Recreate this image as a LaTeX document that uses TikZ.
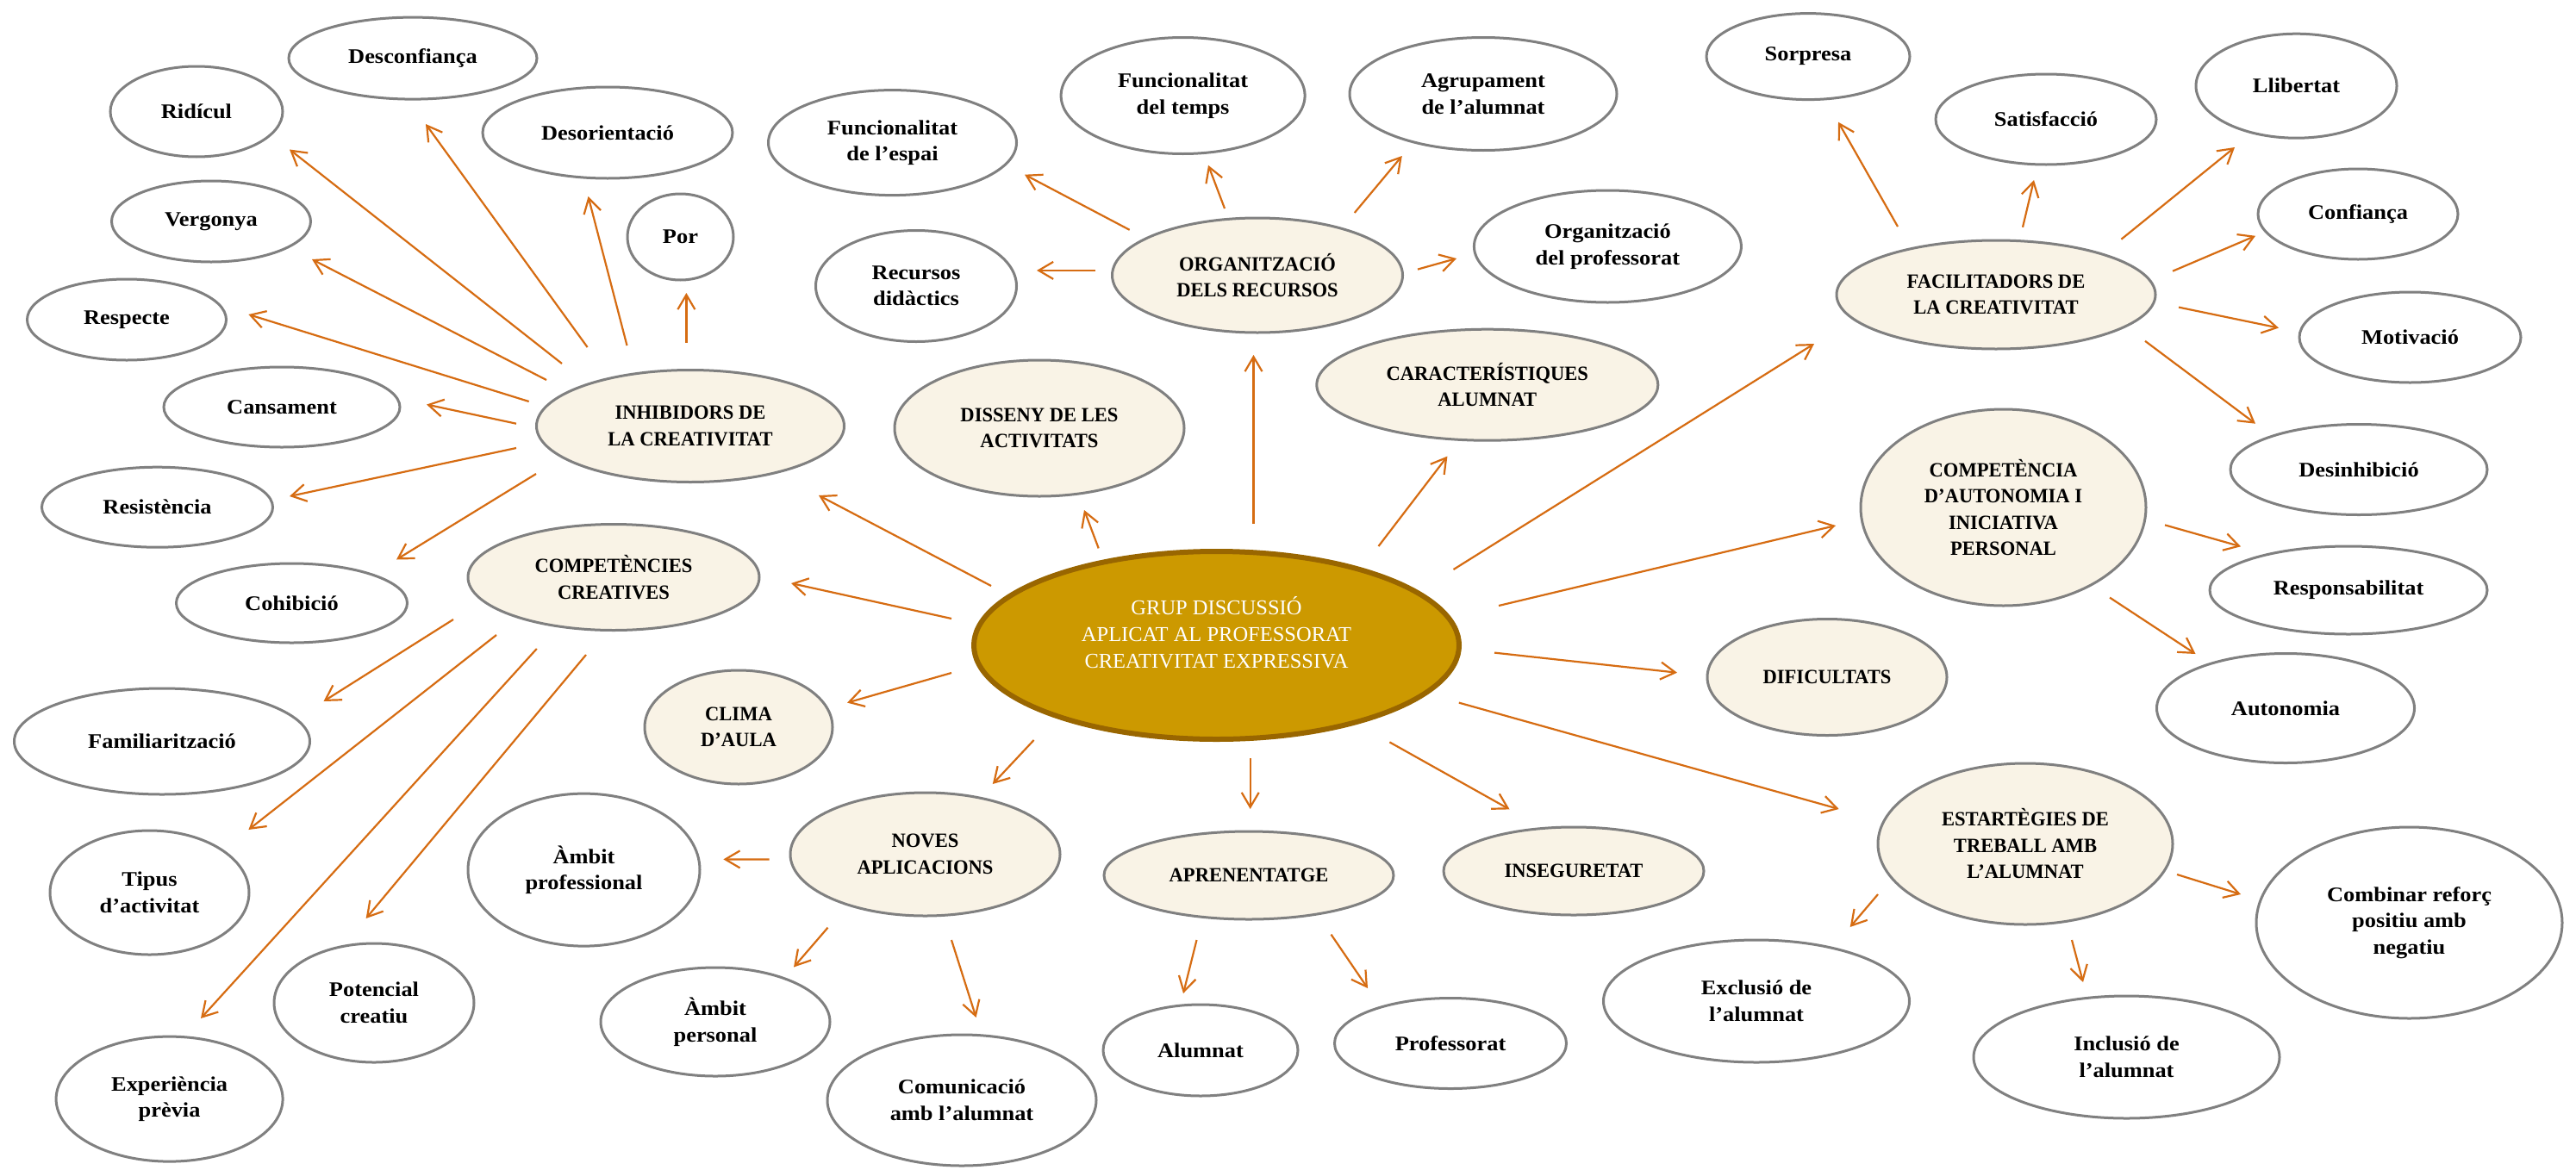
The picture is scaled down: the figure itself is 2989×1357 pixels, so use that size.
\documentclass[tikz,border=0pt]{standalone}
\usepackage{fontspec}
\setmainfont{Liberation Serif}
\newfontfamily\leaffont[FakeStretch=1.1]{Liberation Serif}
\newfontfamily\catfont[FakeStretch=0.96]{Liberation Serif}
\usetikzlibrary{shapes.geometric,arrows.meta,calc}
\definecolor{arrc}{RGB}{214,108,18}
\definecolor{edgec}{RGB}{128,128,128}
\definecolor{creamc}{RGB}{249,243,230}
\definecolor{goldc}{RGB}{204,153,0}
\definecolor{brownc}{RGB}{153,102,0}
\tikzset{
  el/.style={ellipse, draw=edgec, line width=3pt, inner sep=0pt, align=center},
  leafnode/.style={el, fill=white, font=\leaffont\bfseries\fontsize{24}{30.5}\selectfont},
  catnode/.style={el, fill=creamc, font=\catfont\bfseries\fontsize{23.5}{30.5}\selectfont},
  hubnode/.style={ellipse, draw=brownc, line width=6pt, fill=goldc, text=white, inner sep=0pt, align=center, font=\fontsize{24.5}{31}\selectfont},
  arr/.style={draw=arrc, line width=2.2pt, -{Straight Barb[length=17pt,width=20pt]}},
  sz/.style 2 args={minimum width=#1pt, minimum height=#2pt},
}
\begin{document}
\begin{tikzpicture}[x=1pt,y=-1pt]
\fill[white] (0,0) rectangle (2989,1357);
\useasboundingbox (0,0) rectangle (2989,1357);

% central
\node[hubnode, sz={563}{218}] (grup) at (1411.5,749) {GRUP DISCUSSIÓ\\APLICAT AL PROFESSORAT\\CREATIVITAT EXPRESSIVA\\\mbox{}};

% categories
\node[catnode, sz={357}{130}] (inh) at (801,494.5) {INHIBIDORS DE\\LA CREATIVITAT};
\node[catnode, sz={338}{123}] (comp) at (712,670) {COMPETÈNCIES\\CREATIVES};
\node[catnode, sz={218}{132}] (clim) at (857,844) {CLIMA\\D’AULA};
\node[catnode, sz={313}{143}] (nove) at (1073.5,991.5) {NOVES\\APLICACIONS};
\node[catnode, sz={336}{102}] (apre) at (1449,1016) {APRENENTATGE};
\node[catnode, sz={302}{102}] (inse) at (1826,1011) {INSEGURETAT};
\node[catnode, sz={278}{135}] (difi) at (2120,786) {DIFICULTATS};
\node[catnode, sz={342}{187}] (estr) at (2350,979.5) {ESTARTÈGIES DE\\TREBALL AMB\\L’ALUMNAT};
\node[catnode, sz={331}{228}] (caut) at (2324.5,589) {COMPETÈNCIA\\D’AUTONOMIA I\\INICIATIVA\\PERSONAL};
\node[catnode, sz={370}{126}] (faci) at (2316,342) {FACILITADORS DE\\LA CREATIVITAT};
\node[catnode, sz={396}{129}] (cara) at (1725.8,446.7) {CARACTERÍSTIQUES\\ALUMNAT};
\node[catnode, sz={337}{133}] (orgr) at (1459,319.5) {ORGANITZACIÓ\\DELS RECURSOS};
\node[catnode, sz={336}{158}] (diss) at (1206,497) {DISSENY DE LES\\ACTIVITATS};

% leaves
\node[leafnode, sz={288}{95}] (desc) at (479,67.6) {Desconfiança};
\node[leafnode, sz={200}{105}] (rid) at (228,129.5) {Ridícul};
\node[leafnode, sz={231}{94}] (verg) at (245,257) {Vergonya};
\node[leafnode, sz={231}{94}] (resp) at (147,371) {Respecte};
\node[leafnode, sz={274}{93}] (cans) at (327,472.5) {Cansament};
\node[leafnode, sz={268}{93}] (resi) at (182.5,588.7) {Resistència};
\node[leafnode, sz={268}{92}] (cohi) at (338.5,700) {Cohibició};
\node[leafnode, sz={290}{106}] (deso) at (705,154) {Desorientació};
\node[leafnode, sz={123}{100}] (por) at (789.5,275) {Por};
\node[leafnode, sz={343}{123}] (fami) at (188,860.5) {Familiarització};
\node[leafnode, sz={231}{144}] (tipu) at (173.5,1036) {Tipus\\d’activitat};
\node[leafnode, sz={232}{138}] (pote) at (434,1164) {Potencial\\creatiu};
\node[leafnode, sz={263}{145}] (expe) at (196.6,1275.6) {Experiència\\prèvia};
\node[leafnode, sz={269}{177}] (ambp) at (677.5,1009.6) {Àmbit\\professional};
\node[leafnode, sz={288}{122}] (fesp) at (1035.5,165.6) {Funcionalitat\\de l’espai};
\node[leafnode, sz={283}{135}] (ftem) at (1372.6,111) {Funcionalitat\\del temps};
\node[leafnode, sz={233}{129}] (recu) at (1063,332) {Recursos\\didàctics};
\node[leafnode, sz={310}{131}] (agru) at (1721,109) {Agrupament\\de l’alumnat};
\node[leafnode, sz={310}{130}] (orgp) at (1865.4,286) {Organització\\del professorat};
\node[leafnode, sz={236}{100}] (sorp) at (2098,65.6) {Sorpresa};
\node[leafnode, sz={256}{105}] (sati) at (2374,138.5) {Satisfacció};
\node[leafnode, sz={233}{121}] (llib) at (2664.5,99.7) {Llibertat};
\node[leafnode, sz={232}{105}] (conf) at (2736,248.5) {Confiança};
\node[leafnode, sz={257}{105}] (moti) at (2796.5,391.5) {Motivació};
\node[leafnode, sz={298}{105}] (desi) at (2737,545) {Desinhibició};
\node[leafnode, sz={322}{102}] (respo) at (2725,685) {Responsabilitat};
\node[leafnode, sz={299}{127}] (auto) at (2652,822) {Autonomia};
\node[leafnode, sz={355}{222}] (comb) at (2795.5,1071) {Combinar reforç\\positiu amb\\negatiu};
\node[leafnode, sz={355}{142}] (incl) at (2467.5,1227) {Inclusió de\\l’alumnat};
\node[leafnode, sz={355}{142}] (excl) at (2038,1162) {Exclusió de\\l’alumnat};
\node[leafnode, sz={269}{105}] (prof) at (1683,1211) {Professorat};
\node[leafnode, sz={226}{106}] (alum) at (1393,1219) {Alumnat};
\node[leafnode, sz={312}{152}] (comu) at (1116,1277) {Comunicació\\amb l’alumnat};
\node[leafnode, sz={266}{126}] (ambpe) at (830,1186) {Àmbit\\personal};

% connectors: inhibidors
\draw[arr] ($(inh)+(-149,-72.5)$) -- ($(rid)+(108,44)$);
\draw[arr] ($(inh)+(-119.4,-91.5)$) -- ($(desc)+(15,76.4)$);
\draw[arr] ($(inh)+(-167,-53.5)$) -- ($(verg)+(117,44)$);
\draw[arr] ($(inh)+(-187.3,-28.5)$) -- ($(resp)+(141.4,-6)$);
\draw[arr] ($(inh)+(-202,-2.8)$) -- ($(cans)+(168,-3)$);
\draw[arr] ($(inh)+(-202,25.5)$) -- ($(resi)+(153.5,-12.7)$);
\draw[arr] ($(inh)+(-179,55.5)$) -- ($(cohi)+(121.5,-50.5)$);
\draw[arr] ($(inh)+(-73.5,-93.5)$) -- ($(deso)+(-22.5,74)$);
\draw[arr] ($(inh)+(-4.6,-96.9)$) -- ($(por)+(6.9,65)$);
% competencies creatives
\draw[arr] ($(comp)+(-186,49)$) -- ($(fami)+(187.5,-46.5)$);
\draw[arr] ($(comp)+(-136,67)$) -- ($(tipu)+(114.9,-73)$);
\draw[arr] ($(comp)+(-89.2,83)$) -- ($(expe)+(36.4,-93.6)$);
\draw[arr] ($(comp)+(-32,90)$) -- ($(pote)+(-9.3,-98)$);
% organitzacio dels recursos
\draw[arr] ($(orgr)+(-148.4,-52.7)$) -- ($(fesp)+(153.5,37.1)$);
\draw[arr] ($(orgr)+(-38,-77.5)$) -- ($(ftem)+(29.4,80.8)$);
\draw[arr] ($(orgr)+(-188,-5.6)$) -- ($(recu)+(140,-18.1)$);
\draw[arr] ($(orgr)+(112.7,-72.5)$) -- ($(agru)+(-94.2,72)$);
\draw[arr] ($(orgr)+(186,-6.9)$) -- ($(orgp)+(-175.4,14)$);
% central
\draw[arr] ($(grup)+(43,-141)$) -- ($(orgr)+(-4.5,92.5)$);
\draw[arr] ($(grup)+(-136.8,-112.6)$) -- ($(diss)+(52,95)$);
\draw[arr] ($(grup)+(-261.5,-69)$) -- ($(inh)+(149,80.5)$);
\draw[arr] ($(grup)+(188,-115)$) -- ($(cara)+(-46.4,82.9)$);
\draw[arr] ($(grup)+(275,-88)$) -- ($(faci)+(-211,57)$);
\draw[arr] ($(grup)+(327.5,-46)$) -- ($(caut)+(-194.5,21)$);
\draw[arr] ($(grup)+(322.5,8.6)$) -- ($(difi)+(-174,-5.3)$);
\draw[arr] ($(grup)+(281.3,66.6)$) -- ($(estr)+(-216.3,-40.5)$);
\draw[arr] ($(grup)+(200.9,112.4)$) -- ($(inse)+(-74.4,-71.6)$);
\draw[arr] ($(grup)+(39.2,131)$) -- ($(apre)+(1.7,-77)$);
\draw[arr] ($(grup)+(-211.9,110)$) -- ($(nove)+(78.3,-81.5)$);
\draw[arr] ($(grup)+(-307.5,32)$) -- ($(clim)+(126,-28.4)$);
\draw[arr] ($(grup)+(-307.5,-31)$) -- ($(comp)+(206,7)$);
% facilitadors
\draw[arr] ($(faci)+(-114,-79)$) -- ($(sorp)+(35,76.1)$);
\draw[arr] ($(faci)+(31,-78.3)$) -- ($(sati)+(-14,70.5)$);
\draw[arr] ($(faci)+(145.4,-64.3)$) -- ($(llib)+(-71.5,71.3)$);
\draw[arr] ($(faci)+(205,-27.3)$) -- ($(conf)+(-119,25.3)$);
\draw[arr] ($(faci)+(212,14.6)$) -- ($(moti)+(-152.5,-10.9)$);
\draw[arr] ($(faci)+(173,53.8)$) -- ($(desi)+(-120,-53.3)$);
% competencia autonomia
\draw[arr] ($(caut)+(187.5,20.4)$) -- ($(respo)+(-125,-50.7)$);
\draw[arr] ($(caut)+(123.5,104.6)$) -- ($(auto)+(-104.5,-63)$);
% estrategies
\draw[arr] ($(estr)+(176,35.5)$) -- ($(comb)+(-195.5,-33)$);
\draw[arr] ($(estr)+(54,111.5)$) -- ($(incl)+(-50.5,-87)$);
\draw[arr] ($(estr)+(-171,58.5)$) -- ($(excl)+(108.7,-86)$);
% aprenentatge
\draw[arr] ($(apre)+(95.5,68.6)$) -- ($(prof)+(-96,-64)$);
\draw[arr] ($(apre)+(-60.5,75)$) -- ($(alum)+(-20,-66)$);
% noves aplicacions
\draw[arr] ($(nove)+(-181,5.9)$) -- ($(ambp)+(161.9,-12.2)$);
\draw[arr] ($(nove)+(-113,85.2)$) -- ($(ambpe)+(91,-63.5)$);
\draw[arr] ($(nove)+(30.5,99.5)$) -- ($(comu)+(16.6,-96)$);
\end{tikzpicture}
\end{document}
